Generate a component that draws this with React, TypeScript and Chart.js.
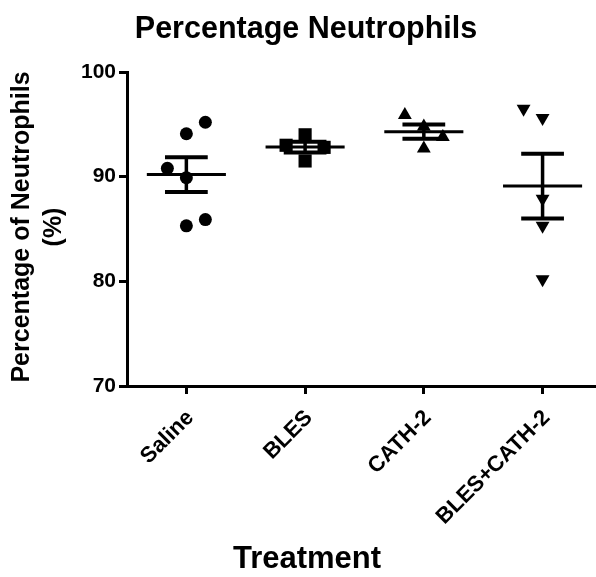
import React, { useEffect, useRef } from "react";
import { Chart, registerables } from "chart.js";

Chart.register(...registerables);

// ---- data ----
const categories = ["Saline", "BLES", "CATH-2", "BLES+CATH-2"];
const salineValues = [95.2, 94.1, 90.8, 89.9, 85.3, 85.9];
const salineJitter = [0.16, 0, -0.16, 0, 0, 0.16];
const blesValues = [93.0, 94.0, 91.5, 92.8];
const blesJitter = [-0.16, 0, 0, 0.16];
const cathValues = [95.9, 94.8, 93.8, 92.7];
const cathJitter = [-0.16, 0, 0.16, 0];
const blesCathValues = [96.5, 95.6, 87.9, 85.3, 80.2];
const blesCathJitter = [-0.16, 0, 0, 0, 0];
const yTickValues = [70, 80, 90, 100];

const titleText = "Percentage Neutrophils";
const xTitleText = "Treatment";
const yTitleLines = ["Percentage of Neutrophils", "(%)"];

const FONT = '"Liberation Sans", Arial, Helvetica, sans-serif';

const groups = [
  { values: salineValues, jitter: salineJitter, style: "circle", radius: 6.5, rotation: 0 },
  { values: blesValues, jitter: blesJitter, style: "rect", radius: 9.3, rotation: 0 },
  { values: cathValues, jitter: cathJitter, style: "triangle", radius: 8, rotation: 0 },
  { values: blesCathValues, jitter: blesCathJitter, style: "triangle", radius: 8, rotation: 180 },
];

function meanOf(a: number[]) {
  return a.reduce((s, v) => s + v, 0) / a.length;
}
function semOf(a: number[]) {
  const m = meanOf(a);
  const v = a.reduce((s, x) => s + (x - m) * (x - m), 0) / (a.length - 1);
  return Math.sqrt(v) / Math.sqrt(a.length);
}

const MEAN_HALF = 0.333;
const CAP_HALF = 0.18;

export default function App() {
  const ref = useRef<HTMLCanvasElement>(null);

  useEffect(() => {
    const canvas = ref.current;
    if (!canvas) return;

    const scatterSets = groups.map((g, i) => ({
      type: "scatter" as const,
      data: g.values.map((v, j) => ({ x: i + 1 + g.jitter[j], y: v })),
      pointStyle: g.style,
      pointRadius: g.radius,
      pointRotation: g.rotation,
      backgroundColor: "#000",
      borderColor: "#000",
      borderWidth: 0,
      order: 2,
    }));

    const meanData: any[] = [];
    const semData: any[] = [];
    const capData: any[] = [];
    groups.forEach((g, i) => {
      const c = i + 1;
      const m = meanOf(g.values);
      const s = semOf(g.values);
      meanData.push({ x: c - MEAN_HALF, y: m }, { x: c + MEAN_HALF, y: m }, { x: c + 0.5, y: null });
      semData.push({ x: c, y: m - s }, { x: c, y: m + s }, { x: c + 0.5, y: null });
      capData.push(
        { x: c - CAP_HALF, y: m + s },
        { x: c + CAP_HALF, y: m + s },
        { x: c + 0.5, y: null },
        { x: c - CAP_HALF, y: m - s },
        { x: c + CAP_HALF, y: m - s },
        { x: c + 0.5, y: null }
      );
    });

    const lineBase = {
      type: "line" as const,
      borderColor: "#000",
      pointRadius: 0,
      spanGaps: false,
      fill: false,
      tension: 0,
      order: 1,
    };

    const titlesPlugin = {
      id: "axisTitles",
      afterDraw(chart: any) {
        const ctx = chart.ctx;
        ctx.save();
        ctx.fillStyle = "#000";
        ctx.textAlign = "center";
        ctx.textBaseline = "middle";
        ctx.font = `bold 31px ${FONT}`;
        ctx.fillText(xTitleText, 307, 559);
        ctx.font = `bold 25px ${FONT}`;
        ctx.translate(0, 227);
        ctx.rotate(-Math.PI / 2);
        yTitleLines.forEach((line, k) => {
          ctx.fillText(line, 0, 22 + k * 32);
        });
        ctx.restore();
      },
    };

    const chart = new Chart(canvas, {
      data: {
        datasets: [
          ...scatterSets,
          { ...lineBase, data: meanData, borderWidth: 3 },
          { ...lineBase, data: semData, borderWidth: 3.5 },
          { ...lineBase, data: capData, borderWidth: 4 },
        ] as any,
      },
      options: {
        responsive: false,
        animation: false,
        devicePixelRatio: 1,
        layout: { autoPadding: false, padding: { left: 16, right: 0, top: 0, bottom: 0 } },
        plugins: {
          legend: { display: false },
          tooltip: { enabled: false },
          title: {
            display: true,
            text: titleText,
            color: "#000",
            font: { family: FONT, size: 30.5, weight: "bold" },
            padding: { top: 11, bottom: 24.4 },
          },
        },
        scales: {
          x: {
            type: "linear",
            min: 0.5,
            max: 4.45,
            afterBuildTicks: (scale: any) => {
              scale.ticks = categories.map((_, i) => ({ value: i + 1 }));
            },
            afterFit: (scale: any) => {
              scale.height = 191;
              scale.paddingLeft = 0;
              scale.paddingRight = 0;
            },
            ticks: {
              autoSkip: false,
              minRotation: 45,
              maxRotation: 45,
              padding: 11,
              labelOffset: 4,
              color: "#000",
              font: { family: FONT, size: 22, weight: "bold" },
              callback: (v: any) => categories[Math.round(Number(v)) - 1] ?? "",
            },
            grid: {
              drawOnChartArea: false,
              drawTicks: true,
              tickLength: 8,
              lineWidth: 3,
              color: "#000",
            },
            border: { display: true, color: "#000", width: 3 },
          },
          y: {
            type: "linear",
            min: 70,
            max: 100,
            afterBuildTicks: (scale: any) => {
              scale.ticks = yTickValues.map((v) => ({ value: v }));
            },
            afterFit: (scale: any) => {
              scale.width = 111;
            },
            ticks: {
              padding: 3,
              color: "#000",
              font: { family: FONT, size: 21, weight: "bold" },
            },
            grid: {
              drawOnChartArea: false,
              drawTicks: true,
              tickLength: 8,
              lineWidth: 3,
              color: "#000",
            },
            border: { display: true, color: "#000", width: 3 },
          },
        },
      } as any,
      plugins: [titlesPlugin],
    });

    return () => chart.destroy();
  }, []);

  return (
    <div style={{ position: "absolute", left: 0, top: 0, width: 596, height: 577, background: "#fff" }}>
      <canvas ref={ref} width={596} height={577} style={{ display: "block" }} />
    </div>
  );
}
